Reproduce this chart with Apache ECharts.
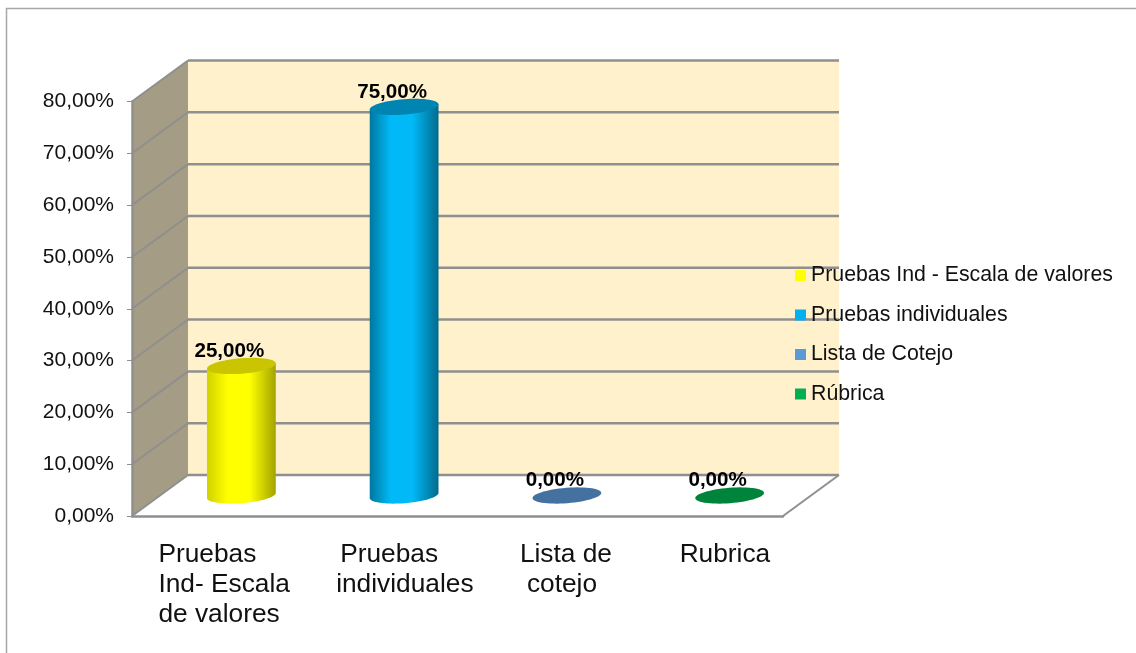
<!DOCTYPE html>
<html><head><meta charset="utf-8">
<style>html,body{margin:0;padding:0;background:#fff}#c{width:1136px;height:653px}</style>
<script src="https://cdn.jsdelivr.net/npm/echarts@6/dist/echarts.min.js"></script>
</head><body><div id="c"></div>
<script>
const categories = ['Pruebas\nInd- Escala\nde valores', 'Pruebas\nindividuales', 'Lista de\ncotejo', 'Rubrica'];
const seriesNames = ['Pruebas Ind - Escala de valores', 'Pruebas individuales', 'Lista de Cotejo', 'Rúbrica'];
const values = [25, 75, 0, 0];
const yTicks = [0, 10, 20, 30, 40, 50, 60, 70, 80];
const legendColors = ['#ffff00', '#00b0f0', '#5b9bd5', '#00b050'];
const topColors = ['#c9c500', '#0085b2', '#44719f', '#00843c'];
const bodyStops = [
  ['#d2d200', '#ffff00', '#ffff00', '#a3a300'],
  ['#00779f', '#00b9f6', '#00b9f6', '#006a8e'],
  ['#44719f', '#5b9bd5', '#5b9bd5', '#3a6088'],
  ['#00843c', '#00b050', '#00b050', '#006e32']
];
const labelLineOffsets = [[-55, -55, -55], [-36, -40], [-19, -12], [-22]];

const depthX = 56, depthY = 41, rx = 34.5, ry = 7.7, tilt = -4.5 * Math.PI / 180;
const gridGray = '#8f8f8f', axisFont = 'Liberation Sans, Arial, sans-serif';
const pct = v => v.toFixed(2).replace('.', ',') + '%';

function ellipsePt(cx, cy, t) {
  const x = rx * Math.cos(t), y = ry * Math.sin(t);
  return [cx + x * Math.cos(tilt) - y * Math.sin(tilt), cy + x * Math.sin(tilt) + y * Math.cos(tilt)];
}

function renderWalls(params, api) {
  const r = params.coordSys, v = api.value(0), y = api.coord([0, v])[1];
  const x0 = r.x, x1 = r.x + r.width;
  const bx0 = x0 + depthX, bx1 = x1 + depthX;
  const line = (a, b, c, d, w) => ({
    type: 'line', shape: { x1: a, y1: b, x2: c, y2: d },
    style: { stroke: gridGray, lineWidth: w }
  });
  const children = [];
  if (params.dataIndex === 0) {
    const top = r.y, bot = r.y + r.height;
    children.push({ type: 'polygon', shape: { points: [[bx0, top - depthY], [bx1, top - depthY], [bx1, bot - depthY], [bx0, bot - depthY]] }, style: { fill: '#fff1cc' } });
    children.push({ type: 'polygon', shape: { points: [[x0, top], [bx0, top - depthY], [bx0, bot - depthY], [x0, bot]] }, style: { fill: '#a49c84' } });
    children.push(line(x1, bot, bx1, bot - depthY, 2));
  }
  children.push(line(bx0, y - depthY, bx1, y - depthY, 2.5));
  children.push(line(x0, y, bx0, y - depthY, 2));
  return { type: 'group', children };
}

function renderCylinder(i) {
  return function (params, api) {
    const val = api.value(1);
    const base = api.coord([api.value(0), 0]);
    const top = api.coord([api.value(0), val]);
    const cx = base[0] + depthX / 2, by = base[1] - depthY / 2, ty = top[1] - depthY / 2;
    const children = [];
    if (val > 0) {
      const pts = [];
      const steps = 36;
      for (let k = 0; k <= steps; k++) pts.push(ellipsePt(cx, by, k / steps * Math.PI));
      pts.push(ellipsePt(cx, ty, Math.PI));
      pts.push(ellipsePt(cx, ty, 0));
      const s = bodyStops[i];
      children.push({
        type: 'polygon', shape: { points: pts },
        style: { fill: new echarts.graphic.LinearGradient(0, 0, 1, 0, [
          { offset: 0, color: s[0] }, { offset: 0.3, color: s[1] },
          { offset: 0.62, color: s[2] }, { offset: 1, color: s[3] }]) }
      });
    }
    const tp = [];
    for (let k = 0; k < 60; k++) tp.push(ellipsePt(cx, ty, k / 60 * 2 * Math.PI));
    children.push({ type: 'polygon', shape: { points: tp }, style: { fill: topColors[i] } });
    children.push({
      type: 'text',
      style: { x: cx - 12, y: ty - 15, text: pct(val), fill: '#000', align: 'center', verticalAlign: 'middle',
        font: 'bold 20.6px ' + axisFont }
    });
    return { type: 'group', children };
  };
}

function renderCatLabels(params, api) {
  const idx = api.value(0);
  const p = api.coord([idx, 0]);
  const lines = categories[idx].split('\n');
  return {
    type: 'group',
    children: lines.map((t, n) => ({
      type: 'text',
      style: { x: p[0] + labelLineOffsets[idx][n], y: p[1] + 38.5 + n * 30, text: t, fill: '#111',
        align: 'left', verticalAlign: 'middle', font: '26.3px ' + axisFont }
    }))
  };
}

const chart = echarts.init(document.getElementById('c'), null, { renderer: 'canvas' });
chart.setOption({
  animation: false,
  backgroundColor: '#fff',
  graphic: [{
    type: 'polyline', z: 0, silent: true,
    shape: { points: [[6.5, 653], [6.5, 8.5], [1136, 8.5]] },
    style: { fill: null, stroke: '#a6a6a6', lineWidth: 1.5 }
  }],
  grid: { left: 132, top: 101.5, width: 651, height: 414.5 },
  xAxis: {
    type: 'category', data: categories, z: 3,
    axisLine: { show: true, lineStyle: { color: gridGray, width: 2.5 } },
    axisTick: { show: false }, axisLabel: { show: false }, splitLine: { show: false }
  },
  yAxis: {
    type: 'value', min: 0, max: 80, interval: 10, z: 3,
    axisLine: { show: true, lineStyle: { color: gridGray, width: 2.5 } },
    axisTick: { show: true, length: 5, lineStyle: { color: gridGray, width: 1 } },
    axisLabel: { formatter: pct, margin: 18, color: '#111', fontSize: 21, fontFamily: axisFont, padding: [3, 0, 0, 0] },
    splitLine: { show: false }
  },
  legend: {
    orient: 'vertical', left: 790, top: 260, itemWidth: 11, itemHeight: 11, itemGap: 18.5,
    selectedMode: false, z: 6,
    textStyle: { color: '#111', fontSize: 21.3, fontFamily: axisFont, padding: [0, 0, 0, 0] },
    data: seriesNames.map((n, i) => ({ name: n, icon: 'rect', itemStyle: { color: legendColors[i] } }))
  },
  series: [
    { type: 'custom', name: 'walls', z: 1, silent: true, data: yTicks.map(v => [v]), encode: { y: 0 }, renderItem: renderWalls },
    ...seriesNames.map((n, i) => ({
      type: 'custom', name: n, z: 2, silent: true,
      itemStyle: { color: legendColors[i] },
      data: [[i, values[i]]], encode: { x: 0, y: 1 },
      renderItem: renderCylinder(i)
    })),
    { type: 'custom', name: 'labels', z: 2, silent: true, data: categories.map((c, i) => [i]), encode: { x: 0 }, renderItem: renderCatLabels }
  ]
});
</script></body></html>
